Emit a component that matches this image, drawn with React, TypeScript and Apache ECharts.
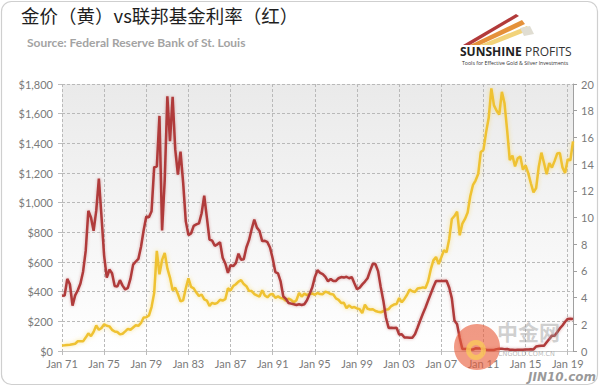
import React, { useEffect, useRef } from "react";
import * as echarts from "echarts";

const startYear = 1971;
const quarterMonths = ["Jan", "Apr", "Jul", "Oct"];

// Gold price, USD/oz, quarterly (Jan 71 .. Jul 19)
const goldPrice = [
  37.9, 39.0, 41.0, 42.5,
  46.0, 49.0, 65.5, 65.0,
  65.0, 90.5, 118.0, 100.0,
  129.0, 172.0, 143.0, 155.0,
  180.0, 170.0, 166.0, 142.5,
  131.5, 128.0, 112.0, 116.0,
  132.0, 149.0, 143.5, 158.5,
  173.0, 170.0, 189.0, 226.0,
  227.0, 239.0, 296.0, 392.0,
  675.0, 517.0, 614.0, 661.0,
  557.0, 495.0, 409.0, 427.0,
  384.0, 335.0, 342.0, 423.0,
  490.0, 432.0, 422.0, 394.0,
  371.0, 381.0, 348.0, 340.0,
  303.0, 325.0, 317.0, 325.0,
  345.0, 340.0, 349.0, 423.0,
  408.0, 438.0, 450.0, 468.0,
  478.0, 451.0, 437.0, 406.0,
  404.0, 384.0, 375.0, 367.0,
  410.0, 374.0, 362.0, 381.0,
  384.0, 358.0, 368.0, 357.0,
  354.0, 338.0, 353.0, 344.0,
  329.0, 342.0, 392.0, 367.0,
  387.0, 377.0, 386.0, 388.0,
  379.0, 391.0, 384.0, 383.0,
  400.0, 393.0, 384.0, 381.0,
  355.0, 345.0, 324.0, 325.0,
  289.0, 308.0, 292.0, 296.0,
  287.0, 282.0, 256.0, 312.0,
  285.0, 280.0, 282.0, 270.0,
  265.0, 261.0, 268.0, 279.0,
  282.0, 303.0, 313.0, 317.0,
  357.0, 328.0, 351.0, 379.0,
  414.0, 403.0, 398.0, 421.0,
  424.0, 429.0, 425.0, 470.0,
  550.0, 611.0, 634.0, 586.0,
  631.0, 679.0, 665.0, 755.0,
  890.0, 910.0, 940.0, 780.0,
  859.0, 890.0, 934.0, 1043.0,
  1118.0, 1149.0, 1193.0, 1342.0,
  1356.0, 1474.0, 1572.0, 1770.0,
  1656.0, 1620.0, 1594.0, 1747.0,
  1670.0, 1487.0, 1287.0, 1317.0,
  1244.0, 1299.0, 1311.0, 1222.0,
  1252.0, 1199.0, 1131.0, 1070.0,
  1098.0, 1242.0, 1337.0, 1267.0,
  1192.0, 1267.0, 1237.0, 1280.0,
  1331.0, 1335.0, 1238.0, 1200.0,
  1292.0, 1286.0, 1413.0,
];

// Federal funds rate, %, quarterly (Jan 71 .. Jul 19)
const fedFundsRate = [
  4.14, 4.16, 5.4, 5.0,
  3.4, 4.17, 4.55, 5.06,
  5.94, 7.5, 10.5, 10.0,
  9.0, 10.51, 12.92, 10.06,
  7.13, 5.49, 6.1, 5.82,
  4.87, 4.82, 5.31, 4.9,
  4.61, 4.73, 5.42, 6.47,
  6.7, 6.9, 7.81, 9.04,
  10.07, 10.01, 10.47, 13.77,
  13.82, 17.61, 9.03, 12.81,
  19.08, 15.72, 19.04, 15.08,
  13.22, 14.94, 12.59, 9.71,
  8.68, 8.8, 9.37, 9.48,
  9.56, 10.32, 11.64, 9.99,
  8.35, 8.27, 7.88, 7.99,
  8.14, 6.99, 6.56, 5.85,
  6.43, 6.36, 6.58, 7.29,
  6.83, 6.87, 7.75, 8.3,
  9.12, 9.84, 9.24, 8.99,
  8.23, 8.26, 8.15, 7.74,
  6.91, 5.91, 5.82, 5.21,
  4.1, 3.9, 3.6, 3.55,
  3.5, 3.45, 3.5, 3.45,
  3.5, 3.8, 4.26, 4.76,
  5.53, 6.05, 5.85, 5.76,
  5.56, 5.22, 5.4, 5.24,
  5.25, 5.45, 5.54, 5.5,
  5.56, 5.45, 5.54, 5.07,
  4.63, 4.74, 4.99, 5.2,
  5.45, 6.02, 6.54, 6.51,
  5.98, 4.8, 3.77, 2.49,
  1.73, 1.75, 1.73, 1.75,
  1.24, 1.26, 1.01, 1.01,
  1.0, 1.0, 1.26, 1.76,
  2.28, 2.79, 3.26, 3.78,
  4.29, 4.79, 5.24, 5.25,
  5.25, 5.25, 5.26, 4.76,
  3.94, 2.28, 2.01, 0.97,
  0.15, 0.15, 0.16, 0.12,
  0.11, 0.2, 0.18, 0.19,
  0.17, 0.1, 0.07, 0.07,
  0.08, 0.14, 0.16, 0.16,
  0.14, 0.15, 0.09, 0.09,
  0.07, 0.09, 0.09, 0.09,
  0.11, 0.12, 0.13, 0.12,
  0.34, 0.37, 0.39, 0.4,
  0.65, 0.9, 1.15, 1.15,
  1.41, 1.69, 1.91, 2.19,
  2.4, 2.42, 2.4,
];

const categories = goldPrice.map(
  (_, i) =>
    `${quarterMonths[i % 4]} ${String((startYear + Math.floor(i / 4)) % 100).padStart(2, "0")}`
);

const goldAxisTicks = { min: 0, max: 1800, interval: 200 };
const rateAxisTicks = { min: 0, max: 20, interval: 2 };

const titleText = "金价（黄）vs联邦基金利率（红）";
const sourceText = "Source: Federal Reserve Bank of St. Louis";

const labelFont = "Lato, 'Open Sans', sans-serif";

export default function App() {
  const ref = useRef<HTMLDivElement>(null);

  useEffect(() => {
    if (!ref.current) return;
    const chart = echarts.init(ref.current, undefined, { renderer: "svg" });
    const option: any = {
      animation: false,
      backgroundColor: "#ffffff",
      grid: {
        left: 62,
        right: 27,
        top: 84,
        bottom: 36,
        show: true,
        borderWidth: 0,
        backgroundColor: new echarts.graphic.LinearGradient(0, 0, 0, 1, [
          { offset: 0, color: "#eaeaea" },
          { offset: 1, color: "#ffffff" },
        ]),
      },
      xAxis: {
        type: "category",
        data: categories,
        boundaryGap: false,
        axisLine: { show: true, lineStyle: { color: "#c8c8c8", width: 1 } },
        axisTick: { show: true, interval: 15, length: 4, lineStyle: { color: "#bdbdbd" } },
        axisLabel: {
          interval: 15,
          color: "#7a7a7a",
          fontFamily: labelFont,
          fontSize: 11,
          margin: 7,
        },
        splitLine: {
          show: true,
          interval: 15,
          lineStyle: { color: "#b9b9b9", type: [3, 2], width: 1 },
        },
      },
      yAxis: [
        {
          type: "value",
          ...goldAxisTicks,
          position: "left",
          axisLine: { show: false },
          axisTick: { show: true, length: 4, lineStyle: { color: "#bdbdbd" } },
          axisLabel: {
            color: "#7a7a7a",
            fontFamily: labelFont,
            fontSize: 11,
            margin: 9,
            formatter: (v: number) => "$" + v.toLocaleString("en-US"),
          },
          splitLine: {
            show: true,
            lineStyle: { color: "#b9b9b9", type: [3, 2], width: 1 },
          },
        },
        {
          type: "value",
          ...rateAxisTicks,
          position: "right",
          axisLine: { show: true, lineStyle: { color: "#a0a0a0", width: 1 } },
          axisTick: { show: true, length: 4, lineStyle: { color: "#a0a0a0" } },
          axisLabel: {
            color: "#7a7a7a",
            fontFamily: labelFont,
            fontSize: 11,
            margin: 8,
          },
          splitLine: { show: false },
        },
      ],
      series: [
        {
          name: "Gold",
          type: "line",
          yAxisIndex: 0,
          data: goldPrice,
          showSymbol: false,
          symbol: "none",
          lineStyle: {
            color: "#efc232",
            width: 2.5,
            shadowColor: "rgba(245,205,60,0.55)",
            shadowBlur: 4,
          },
          z: 3,
        },
        {
          name: "Fed Funds Rate",
          type: "line",
          yAxisIndex: 1,
          data: fedFundsRate,
          showSymbol: false,
          symbol: "none",
          lineStyle: {
            color: "#b03a3a",
            width: 2.5,
            shadowColor: "rgba(160,40,40,0.35)",
            shadowBlur: 3,
          },
          z: 4,
        },
      ],
      graphic: [
        {
          type: "rect",
          shape: { x: 1.5, y: 1.5, width: 596, height: 383, r: 10 },
          style: { fill: "none", stroke: "#cfcfcf", lineWidth: 1.2 },
          silent: true,
          z: 0,
        },
        {
          type: "text",
          left: 21,
          top: 6,
          style: {
            text: titleText,
            fontFamily: "'Noto Sans CJK SC', sans-serif",
            fontSize: 18.5,
            fill: "#1e1e1e",
          },
        },
        {
          type: "text",
          left: 27,
          top: 36,
          style: {
            text: sourceText,
            fontFamily: labelFont,
            fontWeight: "bold",
            fontSize: 12,
            fill: "#a3a3a3",
          },
        },
        // Sunshine Profits logo streaks
        {
          type: "polygon",
          shape: { points: [[463, 45], [516, 14], [519, 16], [470, 45]] },
          style: { fill: "#b23a3a" },
        },
        {
          type: "polygon",
          shape: { points: [[470, 45], [522, 20], [525, 24], [480, 45]] },
          style: { fill: "#e5913a" },
        },
        {
          type: "polygon",
          shape: { points: [[480, 45], [527, 26], [530, 30], [492, 45]] },
          style: { fill: "#f2d37a" },
        },
        {
          type: "polygon",
          shape: { points: [[520, 28], [530, 26], [534, 34], [524, 36]] },
          style: { fill: "#e0ddd2" },
        },
        {
          type: "text",
          left: 460,
          top: 45,
          style: {
            rich: {
              a: { fontFamily: "'Open Sans', sans-serif", fontWeight: "bold", fontSize: 12, fill: "#222" },
              b: { fontFamily: "'Open Sans', sans-serif", fontSize: 12, fill: "#333" },
            },
            text: "{a|SUNSHINE} {b|PROFITS}",
          },
        },
        {
          type: "text",
          left: 462,
          top: 60,
          style: {
            text: "Tools for Effective Gold & Silver Investments",
            fontFamily: "'Open Sans', sans-serif",
            fontSize: 5.2,
            fill: "#333",
          },
        },
        // watermarks
        {
          type: "circle",
          shape: { cx: 477, cy: 347, r: 23 },
          style: { fill: "rgba(232,92,58,0.62)" },
          z: 50,
          silent: true,
        },
        {
          type: "ring",
          shape: { cx: 476, cy: 350, r: 10, r0: 5 },
          style: { fill: "rgba(250,200,90,0.8)" },
          z: 51,
          silent: true,
        },
        {
          type: "text",
          left: 497,
          top: 320,
          style: {
            text: "中金网",
            fontFamily: "'Noto Sans CJK SC', sans-serif",
            fontWeight: "bold",
            fontSize: 21,
            lineHeight: 21,
            fill: "rgba(150,150,150,0.45)",
          },
          z: 50,
          silent: true,
        },
        {
          type: "text",
          left: 498,
          top: 350,
          style: {
            text: "CNGOLD.COM.CN",
            fontFamily: "'DejaVu Sans', sans-serif",
            fontSize: 6.5,
            lineHeight: 7,
            fill: "rgba(140,140,140,0.6)",
          },
          z: 50,
          silent: true,
        },
        {
          type: "text",
          left: 528,
          top: 371,
          style: {
            text: "JIN10.com",
            fontFamily: "'DejaVu Sans', sans-serif",
            fontStyle: "italic",
            fontWeight: "bold",
            fontSize: 12,
            fill: "rgba(120,120,120,0.75)",
          },
          z: 50,
          silent: true,
        },
      ],
    };
    chart.setOption(option);
    return () => chart.dispose();
  }, []);

  return (
    <div
      ref={ref}
      style={{ position: "fixed", left: 0, top: 0, width: 600, height: 387 }}
    />
  );
}
